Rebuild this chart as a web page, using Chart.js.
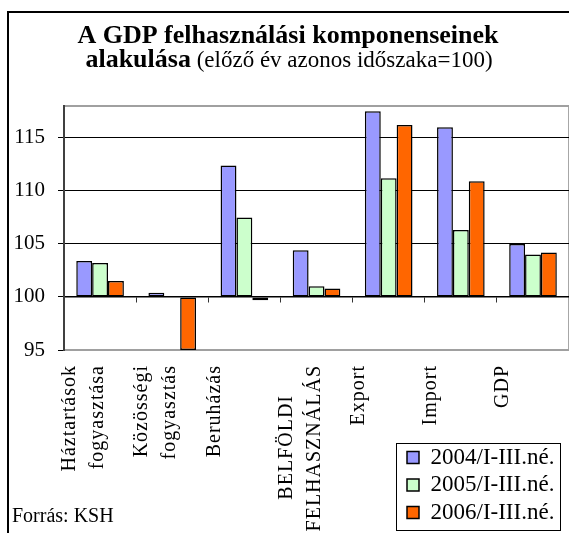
<!DOCTYPE html>
<html>
<head>
<meta charset="utf-8">
<script src="https://cdn.jsdelivr.net/npm/chart.js@4"></script>
<style>
html, body { margin: 0; padding: 0; overflow: hidden; background: #fff; }
#frame { position: absolute; left: 7px; top: 11px; width: 700px; height: 700px; border-left: 2px solid #000; border-top: 2px solid #000; }
#chart { position: absolute; left: 0; top: 0; }
</style>
</head>
<body>
<div id="frame"></div>
<canvas id="chart" width="576" height="533"></canvas>
<script>
const categories = [
	['Háztartások', 'fogyasztása'],
	['Közösségi', 'fogyasztás'],
	'Beruházás',
	['BELFÖLDI', 'FELHASZNÁLÁS'],
	'Export',
	'Import',
	'GDP'
];
const series_names = ['2004/I-III.né.', '2005/I-III.né.', '2006/I-III.né.'];
const values_2004  = [103.4, 100.4, 112.4, 104.4, 117.5, 116.0, 105.0];
const values_2005  = [103.2, 100.0, 107.5, 101.0, 111.2, 106.3, 104.0];
const values_2006  = [101.5,  95.0,  99.7, 100.8, 116.2, 110.9, 104.2];
const y_ticks      = [95, 100, 105, 110, 115];

const title_line1 = 'A GDP felhasználási komponenseinek';
const title_bold  = 'alakulása';
const title_rest  = ' (előző év azonos időszaka=100)';
const source_note = 'Forrás: KSH';

const SERIF = "'Liberation Serif', 'Times New Roman', serif";
const LABEL_SIZE = 20;
const LABEL_SPACING = 1; // px, the rotated category labels are spaced out a little

const measure_ctx = document.createElement('canvas').getContext('2d');

// lines of a rotated label are centred on each other (padding with spaces)
function center_lines(label) {
	if (!Array.isArray(label)) return label;
	measure_ctx.font = `${LABEL_SIZE}px ${SERIF}`;
	measure_ctx.letterSpacing = LABEL_SPACING + 'px';
	const widths = label.map(l => measure_ctx.measureText(l).width);
	const max    = Math.max(...widths);
	const space  = measure_ctx.measureText(' ').width;
	return label.map((l, i) => l + ' '.repeat(Math.round((max - widths[i]) / 2 / space)));
}

const decorations = {
	id: 'decorations',
	beforeDraw(chart) {
		const { ctx, chartArea: a } = chart;
		ctx.letterSpacing = '0px';
		ctx.save();
		ctx.strokeStyle = '#a0a0a0';
		ctx.lineWidth = 2;
		ctx.strokeRect(a.left, a.top, a.right - a.left, a.bottom - a.top);
		ctx.restore();
	},
	afterLayout(chart) {
		// legend sits under the plot, in the lower right corner
		const lg = chart.legend;
		lg.left = 402.5; lg.top = 441.5; lg.right = 569; lg.bottom = 533;
		lg.width = lg.right - lg.left;
		lg.height = lg.bottom - lg.top;
	},
	afterDatasetsDraw(chart) {
		chart.ctx.letterSpacing = LABEL_SPACING + 'px';
	},
	afterDraw(chart) {
		const ctx = chart.ctx;
		ctx.save();
		ctx.letterSpacing = '0px';
		ctx.fillStyle = '#000';
		ctx.textAlign = 'left';
		ctx.textBaseline = 'alphabetic';

		const bold = `bold 26px ${SERIF}`;
		const normal = `23px ${SERIF}`;
		ctx.font = bold;
		const wb = ctx.measureText(title_bold).width;
		ctx.font = normal;
		const wn = ctx.measureText(title_rest).width;
		const x = 289 - (wb + wn) / 2;
		ctx.font = bold;
		ctx.fillText(title_bold, x, 67);
		ctx.font = normal;
		ctx.fillText(title_rest, x + wb, 67);

		ctx.font = `20px ${SERIF}`;
		ctx.fillText(source_note, 12, 522);

		const hb = chart.legend.legendHitBoxes;
		if (hb && hb.length) {
			const left   = hb[0].left - 11;
			const top    = hb[0].top - 3;
			const right  = Math.max(...hb.map(h => h.left + h.width)) + 6;
			const last   = hb[hb.length - 1];
			const bottom = last.top + last.height + 6;
			ctx.strokeStyle = '#000';
			ctx.lineWidth = 1;
			ctx.strokeRect(Math.round(left) + 0.5, Math.round(top) + 0.5, Math.round(right - left), Math.round(bottom - top));
		}
		ctx.restore();
	}
};

const bar_colors = ['#9999ff', '#ccffcc', '#ff6600'];

new Chart(document.getElementById('chart'), {
	type: 'bar',
	data: {
		labels: categories,
		datasets: [values_2004, values_2005, values_2006].map((data, i) => ({
			label:              series_names[i],
			data:               data,
			backgroundColor:    bar_colors[i],
			borderColor:        '#000',
			borderWidth:        1.5,
			borderSkipped:      false,
			base:               100,
			categoryPercentage: 0.66,
			barPercentage:      1
		}))
	},
	options: {
		responsive: false,
		animation: false,
		layout: { padding: 0 },
		plugins: {
			title: {
				display: true,
				text: title_line1,
				color: '#000',
				font: { family: SERIF, size: 26, weight: 'bold', lineHeight: 1.2 },
				padding: { top: 20.6, bottom: 54.2 }
			},
			legend: {
				display: true,
				position: 'chartArea',
				align: 'start',
				labels: {
					color: '#000',
					font: { family: SERIF, size: 23 },
					boxWidth: 12,
					boxHeight: 12,
					padding: 4.5
				}
			},
			tooltip: { enabled: false }
		},
		scales: {
			x: {
				afterFit: s => { s.height = 183; },
				grid: { display: false, drawTicks: false },
				border: { display: false },
				ticks: {
					z: 1,
					color: '#000',
					minRotation: 90,
					maxRotation: 90,
					autoSkip: false,
					padding: 15,
					labelOffset: -30,
					font: { family: SERIF, size: LABEL_SIZE, lineHeight: 1.4 },
					callback: (value, index) => center_lines(categories[index])
				}
			},
			x2: {
				type: 'category',
				position: { y: 100 },
				offset: true,
				grid: { offset: true, drawOnChartArea: false, drawTicks: true, tickLength: 5, color: '#333', lineWidth: 1 },
				ticks: { display: false },
				border: { display: true, color: '#000', width: 1.5 }
			},
			y: {
				min: 95,
				max: 118,
				afterBuildTicks: s => { s.ticks = y_ticks.map(v => ({ value: v })); },
				afterFit: s => { s.width = 64; },
				ticks: { color: '#000', padding: 13, font: { family: SERIF, size: 21 } },
				grid: {
					color: c => (c.tick && c.tick.value === 95) ? 'rgba(0,0,0,0)' : '#000',
					tickColor: '#000',
					tickLength: 6,
					lineWidth: 1
				},
				border: { color: '#404040', width: 2 }
			}
		}
	},
	plugins: [decorations]
});
</script>
</body>
</html>
